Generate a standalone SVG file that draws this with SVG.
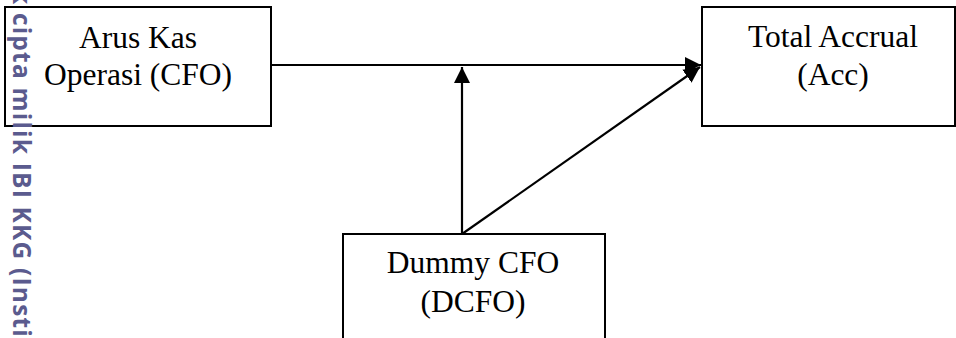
<svg xmlns="http://www.w3.org/2000/svg" width="956" height="338" viewBox="0 0 956 338">
  <style>
    .box { fill: #ffffff; stroke: #000000; stroke-width: 2; }
    .lbl { font-family: "Liberation Serif", "Times New Roman", serif; font-size: 31.5px; fill: #000000; text-anchor: middle; }
    .link { stroke: #000000; stroke-width: 2.2; fill: none; }
    .mark { font-family: "Open Sans", "DejaVu Sans", sans-serif; font-weight: bold; font-size: 24.5px; fill: #5b5b8e; }
  </style>
  <defs>
    <marker id="head" viewBox="0 0 10 10" refX="10" refY="5" markerUnits="userSpaceOnUse" markerWidth="16" markerHeight="16" orient="auto">
      <path d="M0,0 L10,5 L0,10 Z" fill="#000000"/>
    </marker>
  </defs>
  <rect width="956" height="338" fill="#ffffff"/>

  <g id="cfo">
    <rect class="box" x="5" y="7" width="266" height="119"/>
    <text class="lbl" x="138" y="48">Arus Kas</text>
    <text class="lbl" x="138" y="85">Operasi (CFO)</text>
  </g>

  <g id="acc">
    <rect class="box" x="702" y="7" width="253" height="119"/>
    <text class="lbl" x="833" y="47">Total Accrual</text>
    <text class="lbl" x="833" y="85">(Acc)</text>
  </g>

  <g id="dcfo">
    <rect class="box" x="343" y="234" width="262" height="110"/>
    <text class="lbl" x="473" y="273">Dummy CFO</text>
    <text class="lbl" x="473" y="312">(DCFO)</text>
  </g>

  <g id="connectors">
    <line class="link" x1="271" y1="65" x2="701" y2="65" marker-end="url(#head)"/>
    <line class="link" x1="462" y1="234" x2="462" y2="67" marker-end="url(#head)"/>
    <line class="link" x1="462" y1="234" x2="700" y2="67" marker-end="url(#head)"/>
  </g>

  <!-- vertical ownership stamp along the left margin -->
  <text class="mark" transform="translate(13,-47) rotate(90)" letter-spacing="1.2">Hak cipta milik IBI KKG (Institut</text>
</svg>
